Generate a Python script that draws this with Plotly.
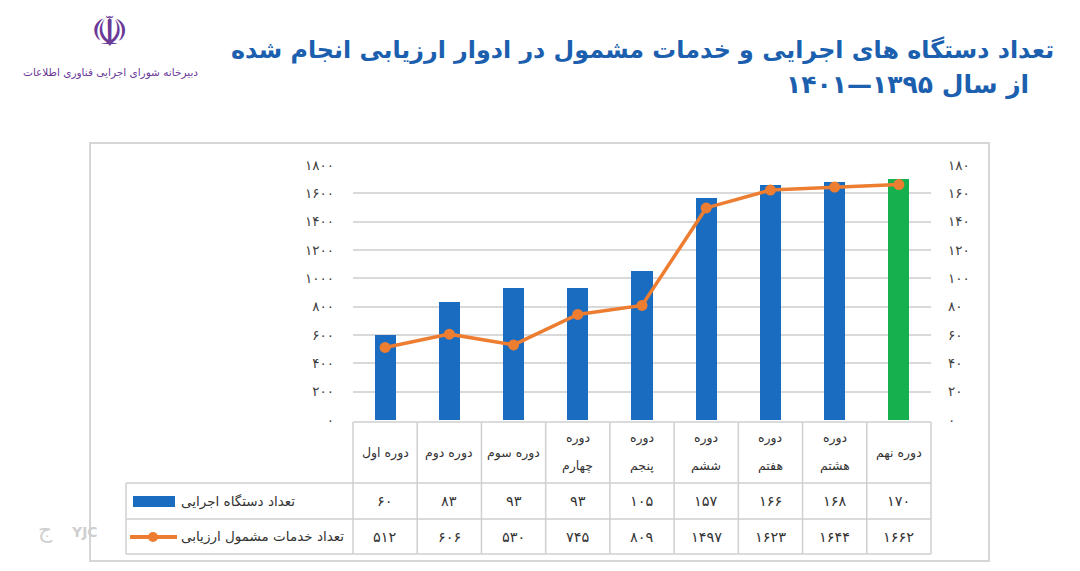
import plotly.graph_objects as go

# ---------------- data ----------------
categories = ["دوره اول", "دوره دوم", "دوره سوم", "دوره<br>چهارم", "دوره<br>پنجم",
              "دوره<br>ششم", "دوره<br>هفتم", "دوره<br>هشتم", "دوره نهم"]
devices = [60, 83, 93, 93, 105, 157, 166, 168, 170]
services = [512, 606, 530, 745, 809, 1497, 1623, 1644, 1662]
left_ticks = [0, 200, 400, 600, 800, 1000, 1200, 1400, 1600, 1800]
right_ticks = [0, 20, 40, 60, 80, 100, 120, 140, 160, 180]
series_names = ["تعداد دستگاه اجرایی", "تعداد خدمات مشمول ارزیابی"]
title_line1 = "تعداد دستگاه های اجرایی و خدمات مشمول در ادوار ارزیابی انجام شده"
title_line2 = "از سال ۱۳۹۵—۱۴۰۱"
logo_text = "دبیرخانه شورای اجرایی فناوری اطلاعات"

FA = str.maketrans("0123456789", "۰۱۲۳۴۵۶۷۸۹")
def fa(v):
    return str(v).translate(FA)

W, H = 1080, 571
def px(x):
    return x / W
def py(y):
    return 1 - y / H

BLUE = "#1a6cc0"
GREEN = "#17b04e"
ORANGE = "#ed7d31"
GRID = "#d9d9d9"
TXT = "#404040"
FONT = "DejaVu Sans"

X0, X1 = 353, 931          # plot area pixel x
Y0, Y1 = 420, 165          # plot area pixel y (0 and max)
n = len(categories)
colw = (X1 - X0) / n

bar_colors = [BLUE] * (n - 1) + [GREEN]
xs = list(range(n))

fig = go.Figure()
fig.add_trace(go.Bar(x=xs, y=devices, marker=dict(color=bar_colors, line=dict(width=0)),
                     width=0.33, yaxis="y", name=series_names[0], showlegend=False))
fig.add_trace(go.Scatter(x=xs, y=services, mode="lines+markers", yaxis="y2",
                         line=dict(color=ORANGE, width=3.5),
                         marker=dict(color=ORANGE, size=11),
                         name=series_names[1], showlegend=False))

shapes = []
# outer frame
shapes.append(dict(type="rect", xref="paper", yref="paper", x0=px(90), x1=px(989),
                   y0=py(561), y1=py(143), line=dict(color="#d6d6d6", width=2)))
# table lines
TL = dict(color="#cfcfcf", width=1.5)
T_TOP, T_R1, T_R2, T_BOT = 422, 483, 519, 554
LBL_L = 126
shapes.append(dict(type="line", xref="paper", yref="paper", x0=px(X0), x1=px(X1), y0=py(T_TOP), y1=py(T_TOP), line=TL))
for yy in (T_R1, T_R2, T_BOT):
    shapes.append(dict(type="line", xref="paper", yref="paper", x0=px(LBL_L), x1=px(X1), y0=py(yy), y1=py(yy), line=TL))
for i in range(n + 1):
    xx = X0 + i * colw
    shapes.append(dict(type="line", xref="paper", yref="paper", x0=px(xx), x1=px(xx), y0=py(T_TOP), y1=py(T_BOT), line=TL))
shapes.append(dict(type="line", xref="paper", yref="paper", x0=px(LBL_L), x1=px(LBL_L), y0=py(T_R1), y1=py(T_BOT), line=TL))
# legend keys
shapes.append(dict(type="rect", xref="paper", yref="paper", x0=px(133), x1=px(175), y0=py(507), y1=py(496),
                   fillcolor=BLUE, line=dict(width=0)))
shapes.append(dict(type="line", xref="paper", yref="paper", x0=px(130), x1=px(177), y0=py(537), y1=py(537),
                   line=dict(color=ORANGE, width=4)))
shapes.append(dict(type="circle", xref="paper", yref="paper", x0=px(148), x1=px(158), y0=py(542), y1=py(532),
                   fillcolor=ORANGE, line=dict(width=0)))

def A(x, y, text, size, color="#333333", xanchor="center", xref="paper", **kw):
    return dict(x=x, y=y, xref=xref, yref="paper", text=text, showarrow=False,
                xanchor=xanchor, yanchor="middle",
                font=dict(family=FONT, size=size, color=color), **kw)

ann = []
for i, c in enumerate(categories):
    parts = c.split("<br>")
    if len(parts) == 1:
        ann.append(A(i, py((T_TOP + T_R1) / 2), c, 12.5, xref="x"))
    else:
        ann.append(A(i, py(438), parts[0], 12.5, xref="x"))
        ann.append(A(i, py(466), parts[1], 12.5, xref="x"))
    ann.append(A(i, py((T_R1 + T_R2) / 2), fa(devices[i]), 14.5, xref="x"))
    ann.append(A(i, py((T_R2 + T_BOT) / 2), fa(services[i]), 14.5, xref="x"))
ann.append(A(px(179), py((T_R1 + T_R2) / 2), series_names[0], 13.5, xanchor="left"))
ann.append(A(px(179), py((T_R2 + T_BOT) / 2), series_names[1], 13.5, xanchor="left"))
# titles
ann.append(A(px(1056), py(50), "<b>" + title_line1 + "</b>", 23.8, color="#1b5fae", xanchor="right"))
ann.append(A(px(1031), py(84), "<b>" + title_line2 + "</b>", 25, color="#1b5fae", xanchor="right"))
# logo
ann.append(A(px(110), py(31), "☫", 42, color="#6b3a97"))
ann.append(A(px(110), py(72), logo_text, 10.5, color="#6b3a97"))
# watermark
ann.append(A(px(45), py(530), "ج", 22, color="#d0d0d0"))
ann.append(A(px(84), py(532), "<b>YJC</b>", 14, color="#cfcfcf"))

fig.update_layout(
    width=W, height=H,
    margin=dict(l=0, r=0, t=0, b=0, autoexpand=False),
    paper_bgcolor="white", plot_bgcolor="white",
    showlegend=False,
    bargap=0,
    xaxis=dict(domain=[px(X0), px(X1)], range=[-0.5, n - 0.5], showticklabels=False, automargin=False,
               showgrid=False, zeroline=False, showline=False, ticks=""),
    yaxis=dict(domain=[py(Y0), py(Y1)], range=[0, 180], side="right", automargin=False,
               tickvals=right_ticks, ticktext=[fa(v) for v in right_ticks],
               showgrid=True, gridcolor=GRID, gridwidth=1.5, zeroline=False, showline=False,
               ticklabelstandoff=16, tickfont=dict(family=FONT, size=13.5, color=TXT)),
    yaxis2=dict(overlaying="y", side="left", range=[0, 1800], automargin=False,
                tickvals=left_ticks, ticktext=[fa(v) for v in left_ticks],
                showgrid=False, zeroline=False, showline=False,
                ticklabelstandoff=18, tickfont=dict(family=FONT, size=13.5, color=TXT)),
    shapes=shapes,
    annotations=ann,
)

fig.write_html("out.html")
